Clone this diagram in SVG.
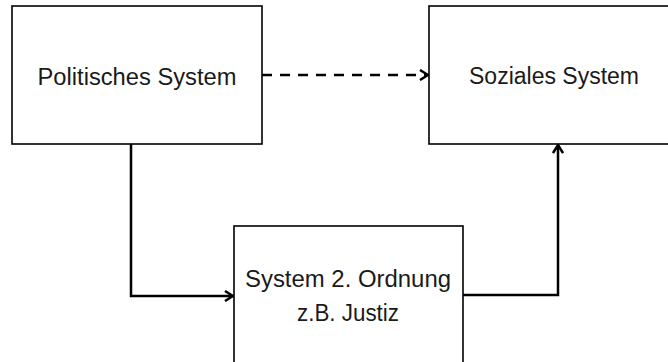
<svg xmlns="http://www.w3.org/2000/svg" width="668" height="362" viewBox="0 0 668 362">
<defs>
<style>
.box{fill:#fff;stroke:#000;stroke-width:1.6}
.lbl{font-family:"Liberation Sans",Arial,sans-serif;font-size:23px;fill:#1a1a1a;text-anchor:middle}
.con{fill:none;stroke:#000;stroke-width:2.5}
.dash{stroke-dasharray:10 8}
</style>
<marker id="arr" viewBox="0 0 10 12" refX="9" refY="6" markerWidth="10" markerHeight="12" markerUnits="userSpaceOnUse" orient="auto">
<path d="M1,1 L9,6 L1,11" fill="none" stroke="#000" stroke-width="2.5"/>
</marker>
</defs>
<rect width="668" height="362" fill="#fff"/>
<g id="politisches-system">
<rect class="box" x="12" y="6" width="250" height="138"/>
<text class="lbl" x="137" y="85" textLength="199" lengthAdjust="spacingAndGlyphs">Politisches System</text>
</g>
<g id="soziales-system">
<rect class="box" x="429" y="6" width="251" height="138"/>
<text class="lbl" x="554" y="84" textLength="170" lengthAdjust="spacingAndGlyphs">Soziales System</text>
</g>
<g id="system-2-ordnung">
<rect class="box" x="234" y="226" width="229" height="150"/>
<text class="lbl" x="348" y="287" textLength="206" lengthAdjust="spacingAndGlyphs">System 2. Ordnung</text>
<text class="lbl" x="348" y="321" textLength="102" lengthAdjust="spacingAndGlyphs">z.B. Justiz</text>
</g>
<g id="connectors">
<path class="con dash" d="M262,75 H428" marker-end="url(#arr)"/>
<path class="con" d="M131,144 V296 H233" marker-end="url(#arr)"/>
<path class="con" d="M463,295 H558 V145" marker-end="url(#arr)"/>
</g>
</svg>
